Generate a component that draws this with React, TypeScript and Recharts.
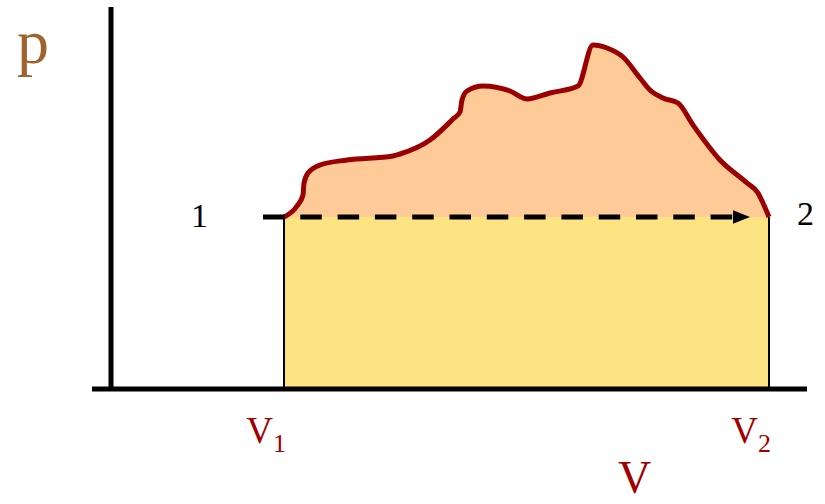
import { ComposedChart, Area, XAxis, YAxis, ReferenceArea, ReferenceLine, ReferenceDot } from 'recharts';

// p-V diagram: work of an irregular process (1 -> 2) vs isobaric path
const curveV = [17.3, 18.6, 19.2, 19.3, 19.7, 20.9, 23.6, 28.2, 28.9, 31.9, 34.2, 34.9, 35.1, 35.6, 37.2, 39.9, 41.6, 43.9, 46.7, 48.2, 49.6, 51.2, 52.9, 53.9, 55.2, 56.7, 58.2, 60.9, 63.6, 64.7, 65.2, 65.8];
const curveP = [17.2, 18.3, 19.4, 20.6, 21.6, 22.4, 22.9, 23.3, 23.5, 24.9, 27.0, 27.7, 28.9, 29.8, 30.3, 29.8, 29.0, 29.6, 30.3, 34.4, 34.1, 33.2, 31.1, 29.9, 29.1, 28.6, 26.4, 22.9, 20.6, 19.6, 18.6, 17.2];

const V1 = 17.3;
const V2 = 65.8;
const P1 = 17.2;
const volumeTicks = [V1, V2];
const stateLabels = ['1', '2'];
const arrowV = [15.2, 63.9];

const V_MIN = -1.9;
const V_MAX = 69.6;
const P_MAX = 38.2;

const curve = curveV.map((v, i) => ({ v, p: curveP[i] }));

const SERIF = '"Liberation Serif", "Times New Roman", serif';
const DARK_RED = '#a00000';
const CURVE_RED = '#990000';
const ORANGE = '#fecb98';
const YELLOW = '#fde381';
const BROWN = '#a0632d';

const DashedArrow = (props: any) => {
    const { x1, y1, x2 } = props;
    const head = 17;
    return (
        <g>
            <line x1={x1} y1={y1} x2={x2 - head} y2={y1} stroke="#000" strokeWidth={5} strokeDasharray="21.5 15.8" />
            <polygon points={`${x2 - head},${y1 - 6.7} ${x2},${y1} ${x2 - head},${y1 + 6.7}`} fill="#000" />
        </g>
    );
};

const VTick = (props: any) => {
    const { x, y, index } = props;
    return (
        <text x={x + 2} y={y + 54} textAnchor="end" fill={DARK_RED} fontFamily={SERIF} fontSize={37}>
            <tspan>V</tspan>
            <tspan fontSize={26} dy={9}>{index + 1}</tspan>
        </text>
    );
};

export default function App() {
    return (
        <div style={{ position: 'absolute', left: 0, top: 0, background: '#fff' }}>
            <ComposedChart width={825} height={504} data={curve} margin={{ top: 7, right: 18, bottom: 0, left: 92 }}>
                <XAxis
                    dataKey="v"
                    type="number"
                    domain={[V_MIN, V_MAX]}
                    allowDataOverflow
                    ticks={volumeTicks}
                    interval={0}
                    axisLine={false}
                    tickLine={false}
                    tickSize={0}
                    tickMargin={0}
                    height={115}
                    tick={VTick}
                />
                <YAxis type="number" domain={[0, P_MAX]} allowDataOverflow hide />
                <ReferenceArea x1={V1} x2={V2} y1={0} y2={P1} fill={YELLOW} fillOpacity={1} stroke="none" ifOverflow="visible" />
                <ReferenceLine segment={[{ x: V1, y: 0 }, { x: V1, y: P1 }]} stroke="#000" strokeWidth={2} />
                <ReferenceLine segment={[{ x: V2, y: 0 }, { x: V2, y: P1 }]} stroke="#000" strokeWidth={2} />
                <Area
                    dataKey="p"
                    type="monotone"
                    baseValue={P1}
                    fill={ORANGE}
                    fillOpacity={1}
                    stroke={CURVE_RED}
                    strokeWidth={5}
                    dot={false}
                    activeDot={false}
                    isAnimationActive={false}
                />
                <ReferenceLine segment={[{ x: arrowV[0], y: P1 }, { x: arrowV[1], y: P1 }]} shape={DashedArrow} />
                <ReferenceDot
                    x={V1}
                    y={P1}
                    r={0}
                    fill="none"
                    stroke="none"
                    label={({ viewBox }: any) => (
                        <text x={viewBox.x - 76} y={viewBox.y + 10} textAnchor="end" fill="#000" fontFamily={SERIF} fontSize={34}>
                            {stateLabels[0]}
                        </text>
                    )}
                />
                <ReferenceDot
                    x={V2}
                    y={P1}
                    r={0}
                    fill="none"
                    stroke="none"
                    label={({ viewBox }: any) => (
                        <text x={viewBox.x + 28} y={viewBox.y + 8} textAnchor="start" fill="#000" fontFamily={SERIF} fontSize={34}>
                            {stateLabels[1]}
                        </text>
                    )}
                />
                {/* axes drawn as thick lines */}
                <ReferenceLine
                    segment={[{ x: V_MIN, y: 0 }, { x: V_MAX, y: 0 }]}
                    stroke="#000"
                    strokeWidth={5}
                    ifOverflow="visible"
                    label={({ viewBox }: any) => (
                        <text x={viewBox.x + viewBox.width * 0.759} y={viewBox.y + 104} textAnchor="middle" fill={DARK_RED} fontFamily={SERIF} fontSize={46}>
                            V
                        </text>
                    )}
                />
                <ReferenceLine
                    segment={[{ x: 0, y: 0 }, { x: 0, y: P_MAX }]}
                    stroke="#000"
                    strokeWidth={5}
                    ifOverflow="visible"
                    label={({ viewBox }: any) => (
                        <text x={viewBox.x - 78} y={viewBox.y + 56} textAnchor="middle" fill={BROWN} fontFamily={SERIF} fontSize={64}>
                            p
                        </text>
                    )}
                />
            </ComposedChart>
        </div>
    );
}
